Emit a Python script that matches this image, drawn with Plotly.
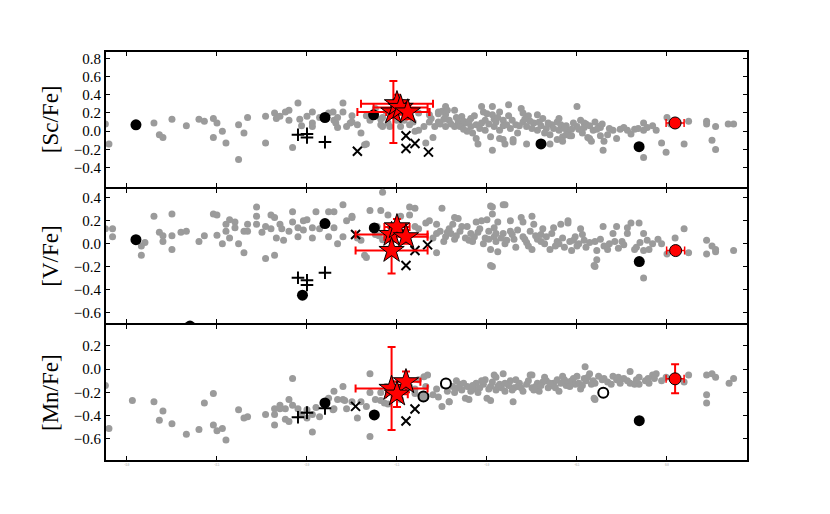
import plotly.graph_objs as go
from plotly.subplots import make_subplots

# field stars ([Fe/H], [X/Fe])
sc_field = [
    (-3.12, 0.08), (-3.10, -0.14), (-2.85, 0.09), (-2.82, -0.04), (-2.80, -0.07), (-2.75, 0.13),
    (-2.67, 0.06), (-2.60, 0.13), (-2.57, 0.11), (-2.52, 0.14), (-2.52, -0.07), (-2.50, 0.09),
    (-2.47, 0.0), (-2.45, -0.13), (-2.38, -0.31), (-2.38, 0.07), (-2.35, -0.02), (-2.33, 0.15),
    (-2.23, -0.13), (-2.23, 0.165), (-2.18, 0.20), (-2.17, 0.14), (-2.15, 0.165), (-2.12, 0.21),
    (-2.10, 0.23), (-2.10, 0.12), (-2.08, -0.18), (-2.05, 0.31), (-2.04, 0.13), (-2.03, 0.06),
    (-2.00, 0.165), (-1.97, 0.21), (-1.97, 0.09), (-1.97, 0.05), (-1.93, 0.15), (-1.88, 0.20),
    (-1.85, 0.12), (-1.83, 0.15), (-1.83, 0.04), (-1.80, 0.31), (-1.80, 0.21), (-1.78, 0.05),
    (-1.75, 0.17), (-1.75, 0.10), (-1.72, 0.07), (-1.70, -0.02), (-1.67, -0.14), (-1.67, 0.17),
    (-1.65, 0.12), (-1.59, 0.13), (-1.59, 0.07), (-1.56, 0.22), (-1.55, 0.09), (-1.54, 0.05),
    (-1.48, 0.05), (-1.43, 0.07), (-1.40, 0.0), (-1.855, 0.21), (-1.84, 0.09), (-1.76, 0.09),
    (-1.68, -0.15), (-1.58, 0.05), (-1.58, 0.15), (-1.62, 0.25), (-1.46, 0.12), (-1.50, 0.12),
    (-1.41, 0.10), (-1.38, 0.01), (-1.38, 0.20), (-1.35, 0.05), (-1.34, -0.13), (-1.32, 0.18),
    (-1.32, 0.10), (-1.29, 0.05), (-1.27, 0.21), (-1.27, 0.10), (-1.23, 0.27), (-1.23, 0.18),
    (-1.23, 0.05), (-1.21, 0.12), (-1.18, 0.23), (-1.18, 0.05), (-1.16, 0.10), (-1.14, 0.16),
    (-1.12, 0.09), (-1.11, 0.0), (-1.09, 0.14), (-1.09, 0.05), (-1.06, -0.08), (-1.05, -0.14),
    (-1.03, 0.27), (-1.03, 0.09), (-1.02, 0.21), (-1.01, 0.01), (-1.01, 0.12), (-0.98, -0.06),
    (-0.97, -0.21), (-0.97, 0.27), (-0.97, 0.18), (-0.96, 0.05), (-0.95, 0.10), (-0.93, 0.21),
    (-0.93, 0.01), (-0.91, 0.12), (-0.91, -0.09), (-0.91, 0.06), (-0.88, 0.29), (-0.88, 0.17),
    (-0.87, 0.03), (-0.855, -0.12), (-0.83, -0.02), (-0.81, 0.25), (-0.80, 0.10), (-0.78, 0.05),
    (-0.77, 0.17), (-0.74, 0.09), (-0.72, 0.01), (-0.69, 0.14), (-0.67, 0.03), (-0.65, -0.04),
    (-0.61, 0.10), (-0.60, 0.01), (-0.60, 0.14), (-0.58, -0.06), (-0.56, 0.06), (-0.55, 0.0),
    (-0.53, -0.05), (-0.50, 0.27), (-0.50, 0.05), (-0.48, 0.12), (-0.47, -0.02), (-0.45, 0.08),
    (-0.44, -0.07), (-0.41, 0.01), (-0.40, 0.10), (-0.38, 0.05), (-0.37, -0.05), (-0.355, -0.21),
    (-0.46, 0.09), (-0.37, 0.04), (-0.35, -0.11), (-0.33, -0.04), (-0.30, 0.01), (-0.28, -0.08),
    (-0.26, 0.02), (-0.22, 0.01), (-0.20, -0.03), (-0.18, 0.02), (-0.13, 0.09), (-0.13, 0.01),
    (-0.13, -0.29), (-0.08, 0.06), (-0.06, 0.01), (-0.03, -0.13), (0.0, 0.15), (-0.005, -0.23),
    (0.02, 0.08), (0.095, -0.14), (0.12, 0.11), (0.22, 0.11), (0.22, 0.08), (0.25, -0.10),
    (0.27, 0.05), (0.27, -0.20), (0.34, 0.08), (0.37, 0.08), (-1.30, -0.07), (-1.27, 0.19),
    (-1.25, 0.22), (-1.22, 0.23), (-1.13, 0.11), (-1.08, -0.02), (-1.00, 0.19), (-0.93, -0.08),
    (-0.90, -0.14), (-0.855, -0.09), (-0.80, 0.20), (-0.78, -0.14), (-0.76, 0.11), (-0.72, 0.18),
    (-0.65, -0.14), (-0.61, -0.09), (-0.58, -0.11), (-0.56, -0.04), (-0.54, -0.05), (-0.53, 0.02),
    (-0.43, -0.08), (-0.42, -0.11), (-0.70, 0.06), (-0.64, 0.07), (-0.84, 0.07), (-1.06, 0.07),
    (-1.31, 0.14), (-1.26, 0.08), (-1.24, 0.13), (-1.20, 0.08), (-1.17, 0.15), (-1.15, 0.05),
    (-1.13, 0.02), (-1.10, 0.11), (-1.07, 0.17), (-1.04, 0.03), (-0.99, 0.08), (-0.96, 0.13),
    (-0.94, 0.15), (-0.89, 0.07), (-0.86, 0.12), (-0.82, 0.06), (-0.79, 0.13), (-0.75, 0.03),
    (-0.71, 0.10), (-0.68, -0.02), (-0.66, 0.09), (-0.63, 0.03), (-0.59, 0.07), (-0.57, 0.03),
    (-0.52, 0.09), (-0.49, 0.02), (-0.46, 0.04), (-0.43, 0.06), (-0.39, 0.02), (-0.36, 0.08),
    (-0.32, 0.03), (-0.24, 0.04), (-0.16, 0.03), (-0.11, 0.04),
]

v_field = [
    (-3.12, 0.13), (-3.08, 0.13), (-3.08, 0.06), (-2.92, -0.02), (-2.92, -0.10), (-2.90, 0.01),
    (-2.85, 0.24), (-2.82, 0.10), (-2.80, 0.07), (-2.80, 0.02), (-2.75, 0.26), (-2.75, 0.07),
    (-2.75, -0.05), (-2.70, 0.10), (-2.67, 0.11), (-2.60, 0.02), (-2.57, 0.07), (-2.52, 0.26),
    (-2.50, 0.25), (-2.50, 0.075), (-2.47, 0.0), (-2.45, 0.11), (-2.45, 0.17), (-2.43, 0.21),
    (-2.43, 0.05), (-2.40, 0.19), (-2.40, 0.14), (-2.38, 0.0), (-2.35, -0.08), (-2.35, 0.11),
    (-2.33, 0.11), (-2.33, 0.17), (-2.28, 0.32), (-2.28, 0.24), (-2.28, 0.17), (-2.25, 0.10),
    (-2.23, -0.13), (-2.23, 0.15), (-2.20, 0.25), (-2.20, 0.13), (-2.18, 0.23), (-2.18, -0.10),
    (-2.17, 0.05), (-2.15, 0.17), (-2.14, 0.13), (-2.13, 0.03), (-2.10, 0.11), (-2.08, 0.28),
    (-2.08, 0.19), (-2.05, 0.14), (-2.05, 0.06), (-2.02, 0.20), (-2.02, 0.12), (-2.00, 0.21),
    (-1.97, 0.05), (-1.97, 0.14), (-1.95, 0.28), (-1.93, 0.13), (-1.88, 0.28), (-1.88, 0.06),
    (-1.85, 0.14), (-1.83, 0.0), (-1.80, 0.34), (-1.80, 0.06), (-1.78, 0.20), (-1.75, 0.23),
    (-1.72, 0.05), (-1.70, 0.03), (-1.67, -0.12), (-1.65, 0.29), (-1.62, 0.08), (-1.59, 0.29),
    (-1.58, 0.45), (-1.55, 0.25), (-1.43, 0.25), (-1.40, 0.31), (-1.85, 0.28), (-1.75, 0.24),
    (-1.68, -0.10), (-1.61, 0.15), (-1.60, 0.07), (-1.58, 0.035), (-1.48, 0.24), (-1.43, 0.32),
    (-1.40, 0.15), (-1.38, 0.13), (-1.34, 0.18), (-1.32, 0.20), (-1.28, 0.17), (-1.28, -0.08),
    (-1.28, 0.09), (-1.26, 0.11), (-1.23, 0.06), (-1.21, 0.13), (-1.20, 0.09), (-1.19, 0.17),
    (-1.18, 0.04), (-1.16, 0.22), (-1.15, 0.11), (-1.12, 0.05), (-1.11, 0.15), (-1.09, 0.09),
    (-1.08, 0.02), (-1.06, 0.19), (-1.05, 0.10), (-1.03, 0.20), (-1.01, 0.05), (-1.00, 0.21),
    (-0.99, 0.11), (-0.98, -0.05), (-0.97, 0.32), (-0.97, 0.26), (-0.97, -0.20), (-0.96, 0.14),
    (-0.96, 0.06), (-0.95, 0.02), (-0.94, 0.19), (-0.94, -0.07), (-0.91, 0.34), (-0.91, 0.09),
    (-0.90, 0.0), (-0.87, 0.20), (-0.87, 0.11), (-0.85, 0.04), (-0.84, -0.03), (-0.81, 0.23),
    (-0.80, 0.19), (-0.80, 0.06), (-0.78, 0.01), (-0.76, 0.11), (-0.75, -0.05), (-0.74, 0.17),
    (-0.72, 0.04), (-0.69, 0.13), (-0.68, 0.0), (-0.65, -0.05), (-0.63, 0.14), (-0.61, 0.02),
    (-0.59, 0.17), (-0.57, -0.03), (-0.55, 0.20), (-0.54, 0.02), (-0.53, -0.06), (-0.51, 0.06),
    (-0.49, 0.0), (-0.47, 0.08), (-0.45, -0.03), (-0.40, -0.20), (-0.40, 0.02), (-0.39, -0.06),
    (-0.405, -0.19), (-0.355, 0.15), (-0.39, -0.14), (-0.30, 0.09), (-0.28, 0.15), (-0.22, 0.09),
    (-0.22, 0.14), (-0.20, 0.18), (-0.18, -0.05), (-0.155, 0.18), (-0.13, 0.09), (-0.13, -0.30),
    (-0.13, -0.06), (-0.08, 0.0), (-0.03, 0.0), (0.0, -0.09), (0.045, 0.05), (0.095, 0.13),
    (0.12, -0.08), (0.22, 0.03), (0.22, -0.09), (0.25, -0.02), (0.27, -0.05), (0.27, -0.07),
    (0.37, -0.06), (-1.25, 0.31), (-1.18, 0.23), (-0.98, 0.33), (-0.90, 0.34), (-0.75, 0.24),
    (-0.55, 0.18), (-0.98, -0.19), (-0.48, 0.13), (-0.35, -0.02), (-0.32, 0.0), (-0.27, -0.04),
    (-0.25, 0.02), (-0.17, -0.03), (-0.10, -0.05), (-0.05, 0.04), (-0.62, -0.02), (-0.70, 0.08),
    (-1.30, 0.05), (-1.24, 0.02), (-1.22, 0.10), (-1.17, 0.07), (-1.14, 0.15), (-1.10, 0.03),
    (-1.07, 0.06), (-1.04, 0.13), (-1.02, 0.0), (-0.99, 0.04), (-0.95, 0.09), (-0.92, 0.05),
    (-0.89, 0.03), (-0.86, 0.08), (-0.83, 0.12), (-0.79, 0.04), (-0.77, -0.02), (-0.73, 0.07),
    (-0.70, 0.02), (-0.67, 0.06), (-0.64, 0.09), (-0.60, 0.0), (-0.58, 0.05), (-0.52, 0.03),
    (-0.50, -0.02), (-0.46, 0.03), (-0.43, 0.01), (-0.37, 0.04), (-0.33, -0.05), (-0.29, 0.02),
    (-0.24, -0.01), (-0.15, 0.01), (-0.11, 0.03),
]

mn_field = [
    (-3.12, -0.14), (-3.10, -0.51), (-2.97, -0.27), (-2.85, -0.28), (-2.82, -0.44), (-2.80, -0.36),
    (-2.75, -0.47), (-2.67, -0.56), (-2.60, -0.52), (-2.57, -0.29), (-2.52, -0.21), (-2.52, -0.48),
    (-2.50, -0.53), (-2.47, -0.51), (-2.45, -0.61), (-2.38, -0.35), (-2.35, -0.42), (-2.33, -0.41),
    (-2.23, -0.39), (-2.18, -0.34), (-2.18, -0.39), (-2.18, -0.48), (-2.15, -0.31), (-2.15, -0.34),
    (-2.12, -0.43), (-2.12, -0.34), (-2.10, -0.26), (-2.10, -0.45), (-2.08, -0.08), (-2.08, -0.31),
    (-2.05, -0.34), (-2.03, -0.39), (-2.00, -0.35), (-2.00, -0.42), (-1.97, -0.54), (-1.97, -0.39),
    (-1.95, -0.33), (-1.93, -0.41), (-1.88, -0.25), (-1.85, -0.19), (-1.85, -0.34), (-1.83, -0.26),
    (-1.80, -0.15), (-1.80, -0.26), (-1.78, -0.34), (-1.75, -0.28), (-1.72, -0.42), (-1.70, -0.28),
    (-1.67, -0.32), (-1.65, -0.04), (-1.65, -0.20), (-1.65, -0.58), (-1.62, -0.26), (-1.59, -0.20),
    (-1.57, -0.29), (-1.55, -0.30), (-1.48, -0.26), (-1.43, -0.15), (-1.40, -0.21), (-1.855, -0.35),
    (-1.79, -0.27), (-1.59, -0.27), (-1.56, -0.15), (-1.40, -0.17), (-1.38, -0.09), (-1.35, -0.065),
    (-1.34, -0.15), (-1.33, -0.05), (-1.30, -0.22), (-1.28, -0.17), (-1.27, -0.24), (-1.21, -0.28),
    (-1.19, -0.15), (-1.17, -0.10), (-1.14, -0.18), (-1.12, -0.25), (-1.11, -0.15), (-1.09, -0.19),
    (-1.06, -0.12), (-1.04, -0.16), (-1.01, -0.09), (-1.00, -0.25), (-0.98, -0.15), (-0.96, -0.05),
    (-0.95, -0.18), (-0.93, -0.13), (-0.91, -0.04), (-0.90, -0.19), (-0.87, -0.10), (-0.855, -0.28),
    (-0.85, -0.16), (-0.82, -0.12), (-0.80, -0.19), (-0.76, -0.05), (-0.75, -0.16), (-0.72, -0.12),
    (-0.71, -0.19), (-0.68, -0.07), (-0.66, -0.16), (-0.63, -0.12), (-0.60, -0.19), (-0.58, -0.06),
    (-0.56, -0.14), (-0.53, -0.10), (-0.50, -0.06), (-0.48, -0.17), (-0.455, 0.02), (-0.45, -0.10),
    (-0.43, -0.04), (-0.40, -0.26), (-0.40, -0.12), (-0.38, -0.06), (-1.25, -0.32), (-1.21, -0.28),
    (-1.10, -0.26), (-0.98, -0.27), (-0.95, -0.07), (-0.75, -0.05), (-0.405, -0.25), (-0.35, -0.08),
    (-0.30, -0.06), (-0.28, -0.09), (-0.26, -0.12), (-0.205, -0.02), (-0.205, -0.12), (-0.18, -0.13),
    (-0.155, -0.07), (-0.155, -0.13), (-0.105, -0.08), (-0.08, -0.05), (-0.06, -0.04), (-0.03, -0.10),
    (-0.005, -0.07), (0.095, -0.11), (0.12, -0.05), (0.22, -0.05), (0.22, -0.22), (0.22, -0.29),
    (0.25, -0.04), (0.27, -0.07), (0.345, -0.12), (0.37, -0.08), (-1.18, -0.20), (-1.07, -0.17),
    (-1.02, -0.13), (-0.97, -0.11), (-0.92, -0.16), (-0.88, -0.14), (-0.83, -0.15), (-0.78, -0.13),
    (-0.73, -0.15), (-0.69, -0.11), (-0.64, -0.14), (-0.61, -0.09), (-0.55, -0.11), (-0.51, -0.13),
    (-0.46, -0.08), (-0.41, -0.10), (-0.33, -0.11), (-0.24, -0.08), (-0.12, -0.10), (-1.15, -0.13),
    (-1.24, -0.14), (-1.22, -0.19), (-1.16, -0.16), (-1.13, -0.12), (-1.08, -0.14), (-1.05, -0.20),
    (-1.03, -0.10), (-0.99, -0.17), (-0.94, -0.15), (-0.90, -0.12), (-0.86, -0.18), (-0.84, -0.09),
    (-0.81, -0.16), (-0.77, -0.10), (-0.74, -0.18), (-0.70, -0.14), (-0.67, -0.10), (-0.65, -0.12),
    (-0.62, -0.16), (-0.59, -0.12), (-0.57, -0.09), (-0.54, -0.15), (-0.52, -0.08), (-0.49, -0.12),
    (-0.47, -0.14), (-0.44, -0.07), (-0.42, -0.13), (-0.36, -0.09), (-0.31, -0.13), (-0.27, -0.07),
    (-0.22, -0.10), (-0.17, -0.09), (-0.10, -0.12), (-0.07, -0.08),
]

# halo comparison stars
sc_black_x = [-2.95, -1.90, -1.63, -0.70, -0.155]
sc_black_y = [0.07, 0.15, 0.18, -0.14, -0.17]
sc_plus_x = [-2.05, -2.00, -2.00, -1.90]
sc_plus_y = [-0.04, -0.03, -0.07, -0.12]
sc_cross_x = [-1.72, -1.45, -1.45, -1.40, -1.325]
sc_cross_y = [-0.22, -0.05, -0.19, -0.135, -0.23]

v_black_x = [-2.95, -1.90, -1.626, -2.025, -2.65, -0.154]
v_black_y = [0.035, 0.176, 0.138, -0.45, -0.72, -0.156]
v_plus_x = [-2.05, -2.00, -2.00, -1.90]
v_plus_y = [-0.297, -0.32, -0.36, -0.253]
v_cross_x = [-1.73, -1.40, -1.33, -1.45]
v_cross_y = [0.08, -0.06, -0.01, -0.19]

mn_black_x = [-1.90, -1.626, -0.154]
mn_black_y = [-0.29, -0.394, -0.443]
mn_plus_x = [-2.05, -2.00, -1.90]
mn_plus_y = [-0.414, -0.374, -0.337]
mn_cross_x = [-1.73, -1.40, -1.45]
mn_cross_y = [-0.32, -0.343, -0.446]
mn_open_x = [-1.228, -0.354]
mn_open_y = [-0.123, -0.203]
mn_ring_x = [-1.353]
mn_ring_y = [-0.234]

# program stars with errors
sc_star_x = [-1.52, -1.50, -1.48, -1.44]
sc_star_y = [0.21, 0.30, 0.26, 0.21]
sc_star_ex = [0.20, 0.20, 0.15, 0.12]
sc_star_ey = [0.34, 0.10, 0.08, 0.08]

v_star_x = [-1.53, -1.50, -1.45, -1.53]
v_star_y = [0.08, 0.147, 0.06, -0.06]
v_star_ex = [0.20, 0.07, 0.12, 0.20]
v_star_ey = [0.06, 0.07, 0.06, 0.20]

mn_star_x = [-1.53, -1.45, -1.50]
mn_star_y = [-0.166, -0.109, -0.215]
mn_star_ex = [0.20, 0.08, 0.06]
mn_star_ey = [0.357, 0.09, 0.11]

# red circle (reference star)
ref_x = [0.045, 0.048, 0.045]
ref_y = [0.09, -0.06, -0.083]
ref_ex = [0.05, 0.05, 0.05]
ref_ey = [0.02, 0.02, 0.125]

labels = ['[Sc/Fe]', '[V/Fe]', '[Mn/Fe]']
y_ranges = [[-0.62, 0.88], [-0.705, 0.49], [-0.79, 0.386]]
y_ticks = [[-0.4, -0.2, 0.0, 0.2, 0.4, 0.6, 0.8],
           [-0.6, -0.4, -0.2, 0.0, 0.2, 0.4],
           [-0.6, -0.4, -0.2, 0.0, 0.2]]
x_ticks = [-3.0, -2.5, -2.0, -1.5, -1.0, -0.5, 0.0]

GRAY = '#9b9b9b'
SERIF = 'Liberation Serif, DejaVu Serif, serif'

panels = [
    (sc_field, sc_black_x, sc_black_y, sc_plus_x, sc_plus_y, sc_cross_x, sc_cross_y,
     sc_star_x, sc_star_y, sc_star_ex, sc_star_ey),
    (v_field, v_black_x, v_black_y, v_plus_x, v_plus_y, v_cross_x, v_cross_y,
     v_star_x, v_star_y, v_star_ex, v_star_ey),
    (mn_field, mn_black_x, mn_black_y, mn_plus_x, mn_plus_y, mn_cross_x, mn_cross_y,
     mn_star_x, mn_star_y, mn_star_ex, mn_star_ey),
]

fig = make_subplots(rows=3, cols=1, shared_xaxes=True, vertical_spacing=0)

for i, (field, bx, by, px, py, cx, cy, stx, sty, stex, stey) in enumerate(panels):
    row = i + 1
    fig.add_hline(y=0, line=dict(color='black', width=1.5, dash='8px,5px'), row=row, col=1)
    fig.add_trace(go.Scatter(x=[p[0] for p in field], y=[p[1] for p in field], mode='markers',
                             marker=dict(color=GRAY, size=7, line=dict(width=0))), row=row, col=1)
    if i == 2:
        fig.add_trace(go.Scatter(x=mn_open_x, y=mn_open_y, mode='markers',
                                 marker=dict(symbol='circle', color='white', size=10,
                                             line=dict(color='black', width=2))), row=row, col=1)
        fig.add_trace(go.Scatter(x=mn_ring_x, y=mn_ring_y, mode='markers',
                                 marker=dict(symbol='circle', color=GRAY, size=10,
                                             line=dict(color='black', width=2))), row=row, col=1)
    fig.add_trace(go.Scatter(x=px, y=py, mode='markers',
                             marker=dict(symbol='cross-thin', size=9,
                                         line=dict(color='black', width=2))), row=row, col=1)
    fig.add_trace(go.Scatter(x=cx, y=cy, mode='markers',
                             marker=dict(symbol='x-thin', size=9,
                                         line=dict(color='black', width=2))), row=row, col=1)
    fig.add_trace(go.Scatter(x=bx, y=by, mode='markers',
                             marker=dict(color='black', size=11, line=dict(width=0))), row=row, col=1)
    fig.add_trace(go.Scatter(x=stx, y=sty, mode='markers',
                             error_x=dict(type='data', array=stex, color='red', thickness=2, width=4),
                             error_y=dict(type='data', array=stey, color='red', thickness=2, width=4),
                             marker=dict(symbol='star', color='red', size=19,
                                         line=dict(color='black', width=1))), row=row, col=1)
    fig.add_trace(go.Scatter(x=[ref_x[i]], y=[ref_y[i]], mode='markers',
                             error_x=dict(type='data', array=[ref_ex[i]], color='red', thickness=1.5, width=4),
                             error_y=dict(type='data', array=[ref_ey[i]], color='red', thickness=2, width=4),
                             marker=dict(color='red', size=12,
                                         line=dict(color='black', width=1))), row=row, col=1)

    fig.update_yaxes(range=y_ranges[i], tickvals=y_ticks[i],
                     ticktext=[('−' if v < 0 else '') + '%.1f' % abs(v) for v in y_ticks[i]],
                     title=dict(text=labels[i], font=dict(family=SERIF, size=23, color='black'), standoff=8),
                     row=row, col=1)
    fig.update_xaxes(range=[-3.122, 0.45], tickvals=x_ticks,
                     ticktext=['%.1f' % v for v in x_ticks], row=row, col=1)

# outer frame around the stacked panels
fig.add_shape(type='rect', xref='paper', yref='paper', x0=0, x1=1, y0=0, y1=1,
              line=dict(color='black', width=2))

fig.update_xaxes(showline=True, linecolor='black', linewidth=1, mirror='allticks',
                 ticks='inside', ticklen=5, tickwidth=1, tickcolor='black',
                 showgrid=False, zeroline=False,
                 tickfont=dict(family=SERIF, size=3, color='#888888'))
fig.update_yaxes(showline=True, linecolor='black', linewidth=1, mirror='allticks',
                 ticks='inside', ticklen=5, tickwidth=1, tickcolor='black',
                 showgrid=False, zeroline=False,
                 tickfont=dict(family=SERIF, size=15, color='black'))

# page body adds an 8px offset, so the figure is shrunk to keep the plot area in place
fig.update_layout(
    width=814, height=498,
    showlegend=False,
    plot_bgcolor='white', paper_bgcolor='white',
    margin=dict(l=97, r=74, t=43, b=45),
)

fig.write_html("out.html")
